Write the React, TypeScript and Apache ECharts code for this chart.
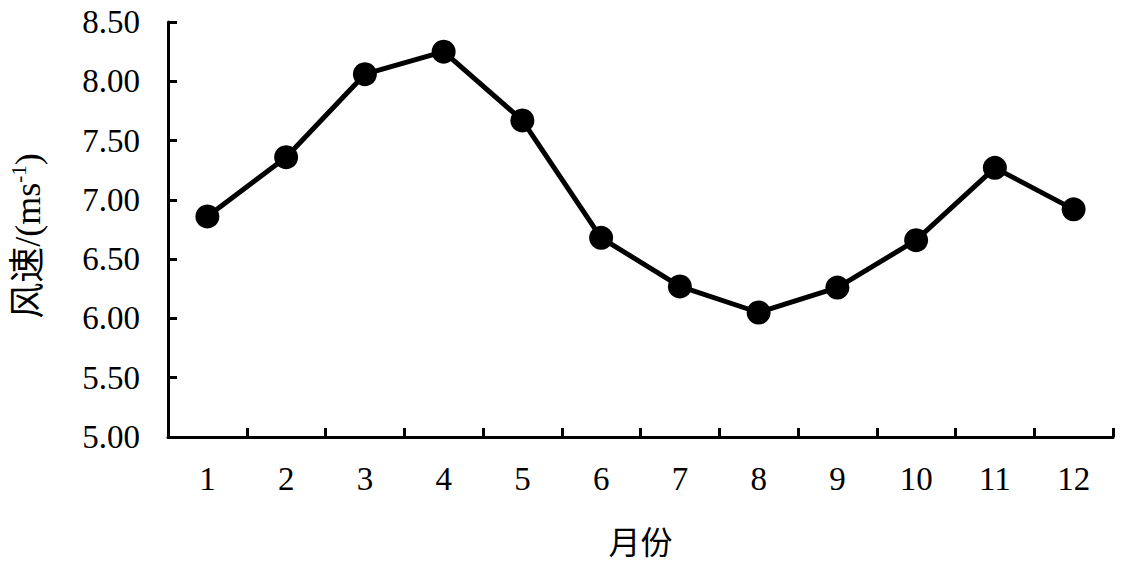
import React, { useEffect, useRef } from "react";
import * as echarts from "echarts";

const months = ["1", "2", "3", "4", "5", "6", "7", "8", "9", "10", "11", "12"];
const windSpeed = [6.86, 7.36, 8.06, 8.25, 7.67, 6.68, 6.27, 6.05, 6.26, 6.66, 7.27, 6.92];
const yMin = 5;
const yMax = 8.5;
const yStep = 0.5;

const SERIF = "Liberation Serif";
const NAME_FONT = "Liberation Serif, Noto Sans CJK SC";

export default function App() {
  const ref = useRef<HTMLDivElement>(null);
  useEffect(() => {
    document.body.style.margin = "0";
    const chart = echarts.init(ref.current!, null, { renderer: "svg" });
    chart.setOption({
      animation: false,
      backgroundColor: "#ffffff",
      textStyle: { fontFamily: SERIF },
      grid: { left: 167, top: 22, right: 9, bottom: 128, containLabel: false },
      xAxis: {
        type: "category",
        data: months,
        boundaryGap: true,
        name: "月份",
        nameLocation: "middle",
        nameGap: 90,
        nameTextStyle: { color: "#000", fontSize: 32, fontFamily: NAME_FONT },
        axisLine: { lineStyle: { color: "#000", width: 3 } },
        axisTick: { show: true, inside: true, length: 9, alignWithLabel: false, lineStyle: { color: "#000", width: 3 } },
        axisLabel: { color: "#000", fontSize: 33, fontFamily: SERIF, margin: 25 },
        splitLine: { show: false },
      },
      yAxis: {
        type: "value",
        min: yMin,
        max: yMax,
        interval: yStep,
        name: "{a|风速/(ms}{b|-1}{a|)}",
        nameLocation: "middle",
        nameRotate: 90,
        nameGap: 120,
        nameTextStyle: {
          color: "#000",
          fontFamily: NAME_FONT,
          padding: [0, 13, 0, 0],
          rich: {
            a: { fontSize: 36, fontFamily: NAME_FONT, color: "#000", lineHeight: 40 },
            b: { fontSize: 21, fontFamily: SERIF, color: "#000", verticalAlign: "top", lineHeight: 40, padding: [0, 0, 15, 0] },
          },
        },
        axisLine: { show: true, lineStyle: { color: "#000", width: 3 } },
        axisTick: { show: true, inside: true, length: 9, lineStyle: { color: "#000", width: 3 } },
        axisLabel: {
          color: "#000",
          fontSize: 33,
          fontFamily: SERIF,
          margin: 28,
          formatter: (v: number) => v.toFixed(2),
        },
        splitLine: { show: false },
      },
      series: [
        {
          type: "line",
          data: windSpeed,
          symbol: "circle",
          symbolSize: 24,
          itemStyle: { color: "#000" },
          lineStyle: { color: "#000", width: 5 },
        },
      ],
    });
    return () => chart.dispose();
  }, []);
  return <div ref={ref} style={{ width: 1122, height: 565 }} />;
}
